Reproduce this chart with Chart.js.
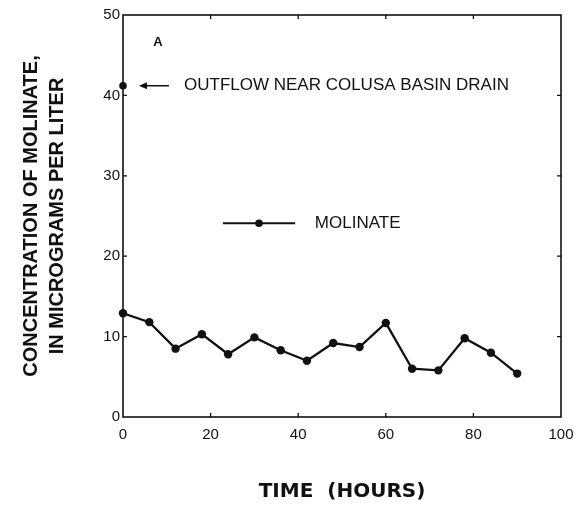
<!DOCTYPE html>
<html>
<head>
<meta charset="utf-8">
<script src="https://cdn.jsdelivr.net/npm/chart.js@4/dist/chart.umd.min.js"></script>
<style>
html,body{margin:0;padding:0;background:#fff;}
#wrap{width:578px;height:508px;position:relative;}
</style>
</head>
<body>
<div id="wrap"><canvas id="c" width="578" height="508"></canvas></div>
<script>
// ---- data ----
const hours = [0, 6, 12, 18, 24, 30, 36, 42, 48, 54, 60, 66, 72, 78, 84, 90];
const molinate = [12.9, 11.8, 8.5, 10.3, 7.8, 9.9, 8.3, 7.0, 9.2, 8.7, 11.7, 6.0, 5.8, 9.8, 8.0, 5.4];
const outflowHour = [0];
const outflowValue = [41.2];
const xTicks = [0, 20, 40, 60, 80, 100];
const yTicks = [0, 10, 20, 30, 40, 50];
const seriesName = 'MOLINATE';
const outflowLabel = 'OUTFLOW NEAR COLUSA BASIN DRAIN';
const panelLabel = 'A';
const xTitle = 'TIME  (HOURS)';
const yTitle = ['CONCENTRATION OF MOLINATE,', 'IN MICROGRAMS PER LITER'];

const INK = '#111';

const framePlugin = {
  id: 'frame',
  afterDatasetsDraw(chart) {
    const {ctx, chartArea: a, scales: {x, y}} = chart;
    ctx.save();
    ctx.strokeStyle = INK;
    ctx.lineWidth = 1.6;
    ctx.strokeRect(a.left, a.top, a.right - a.left, a.bottom - a.top);
    // inward tick marks
    const tl = 4;
    ctx.lineWidth = 1.3;
    ctx.beginPath();
    xTicks.slice(1, -1).forEach(v => {
      const px = x.getPixelForValue(v);
      ctx.moveTo(px, a.bottom); ctx.lineTo(px, a.bottom - tl);
      ctx.moveTo(px, a.top); ctx.lineTo(px, a.top + tl);
    });
    yTicks.slice(1, -1).forEach(v => {
      const py = y.getPixelForValue(v);
      ctx.moveTo(a.left, py); ctx.lineTo(a.left + tl, py);
      ctx.moveTo(a.right, py); ctx.lineTo(a.right - tl, py);
    });
    ctx.stroke();

    ctx.fillStyle = INK;
    ctx.textBaseline = 'middle';
    // panel label
    ctx.font = 'bold 13px "Liberation Sans", Arial, sans-serif';
    ctx.textAlign = 'center';
    ctx.fillText(panelLabel, x.getPixelForValue(8), y.getPixelForValue(46.6));

    // outflow arrow + label
    const oy = y.getPixelForValue(outflowValue[0]);
    const tip = x.getPixelForValue(outflowHour[0]) + 16;
    const tail = tip + 30;
    ctx.lineWidth = 1.5;
    ctx.beginPath();
    ctx.moveTo(tail, oy); ctx.lineTo(tip + 2, oy);
    ctx.stroke();
    ctx.beginPath();
    ctx.moveTo(tip, oy); ctx.lineTo(tip + 8, oy - 3.5); ctx.lineTo(tip + 8, oy + 3.5); ctx.closePath();
    ctx.fill();
    ctx.font = '17px "Liberation Sans", Arial, sans-serif';
    ctx.textAlign = 'left';
    ctx.fillText(outflowLabel, tail + 15, oy);

    // legend
    const ly = y.getPixelForValue(24.1);
    const lx1 = x.getPixelForValue(22.8), lx2 = x.getPixelForValue(39.3);
    ctx.lineWidth = 2;
    ctx.beginPath(); ctx.moveTo(lx1, ly); ctx.lineTo(lx2, ly); ctx.stroke();
    ctx.beginPath(); ctx.arc((lx1 + lx2) / 2, ly, 3.8, 0, Math.PI * 2); ctx.fill();
    ctx.fillText(seriesName, x.getPixelForValue(43.8), ly);
    ctx.restore();
  }
};

new Chart(document.getElementById('c'), {
  type: 'line',
  data: {
    datasets: [
      {
        label: seriesName,
        data: hours.map((h, i) => ({x: h, y: molinate[i]})),
        borderColor: INK,
        backgroundColor: INK,
        borderWidth: 2.3,
        pointRadius: 4.2,
        pointBackgroundColor: INK,
        pointBorderWidth: 0,
        tension: 0,
        clip: false
      },
      {
        label: outflowLabel,
        data: outflowHour.map((h, i) => ({x: h, y: outflowValue[i]})),
        showLine: false,
        pointRadius: 3.8,
        pointBackgroundColor: INK,
        pointBorderWidth: 0,
        clip: false
      }
    ]
  },
  options: {
    responsive: false,
    animation: false,
    devicePixelRatio: 1,
    layout: {padding: {top: 15, right: 17, left: 0, bottom: 0}},
    plugins: {legend: {display: false}, tooltip: {enabled: false}},
    scales: {
      x: {
        type: 'linear', min: 0, max: 100,
        afterFit: s => { s.height = 91; s.paddingRight = 0; s.paddingLeft = 0; },
        afterBuildTicks: s => { s.ticks = xTicks.map(v => ({value: v})); },
        grid: {display: false, drawTicks: false},
        border: {display: false},
        ticks: {color: INK, padding: 9, font: {family: '"Liberation Sans", Arial, sans-serif', size: 15}, maxRotation: 0},
        title: {display: true, text: xTitle, color: INK, padding: {top: 0, bottom: 4},
          font: {family: '"DejaVu Sans", "Liberation Sans", sans-serif', size: 20, weight: 'bold', lineHeight: 1.2}}
      },
      y: {
        type: 'linear', min: 0, max: 50,
        afterFit: s => { s.width = 123; s.paddingTop = 0; s.paddingBottom = 0; },
        afterBuildTicks: s => { s.ticks = yTicks.map(v => ({value: v})); },
        grid: {display: false, drawTicks: false},
        border: {display: false},
        ticks: {color: INK, padding: 3, font: {family: '"Liberation Sans", Arial, sans-serif', size: 15}},
        title: {display: true, text: yTitle, color: INK, padding: {top: 19, bottom: 0},
          font: {family: '"Liberation Sans", Arial, sans-serif', size: 20, weight: 'bold', lineHeight: 1.28}}
      }
    }
  },
  plugins: [framePlugin]
});
</script>
</body>
</html>
